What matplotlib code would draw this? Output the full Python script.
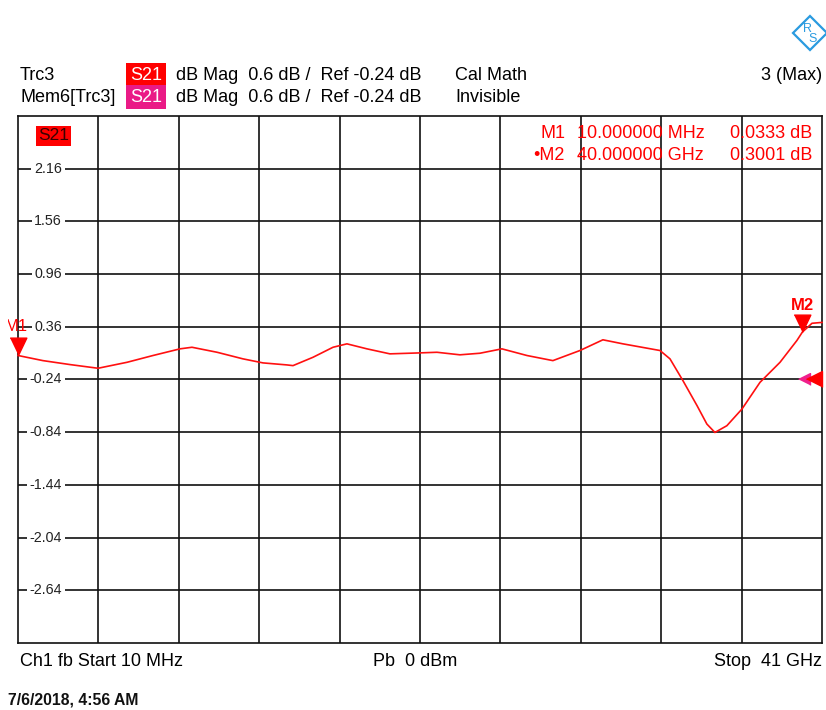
import matplotlib
matplotlib.use('Agg')
import matplotlib.pyplot as plt
import matplotlib.transforms as mtransforms
from matplotlib.patches import Polygon
from matplotlib.transforms import Bbox

# ---------------- data ----------------
freq_ghz = [0.01, 1.28, 2.66, 4.09, 5.57, 6.89, 8.27, 8.88, 10.16, 11.48,
            12.50, 13.72, 14.03, 15.05, 16.07, 16.78, 17.80, 18.97, 20.50,
            21.37, 22.54, 23.56, 24.68, 25.96, 27.28, 28.66, 29.83, 30.85,
            32.74, 33.25, 33.91, 34.63, 35.13, 35.54, 36.15, 36.92, 37.84,
            38.86, 39.72, 40.00, 40.49, 41.00]
s21_db = [0.0333, -0.025, -0.070, -0.112, -0.044, 0.033, 0.109, 0.127, 0.070,
          -0.005, -0.051, -0.074, -0.082, 0.013, 0.127, 0.166, 0.109, 0.052,
          0.063, 0.070, 0.041, 0.059, 0.109, 0.033, -0.025, 0.090, 0.212,
          0.166, 0.090, -0.005, -0.253, -0.538, -0.747, -0.843, -0.766,
          -0.576, -0.272, -0.044, 0.204, 0.3001, 0.400, 0.410]
ytick_vals = [2.16, 1.56, 0.96, 0.36, -0.24, -0.84, -1.44, -2.04, -2.64]
start_ghz, stop_ghz = 0.01, 41.0
ref_db, scale_db = -0.24, 0.6
marker_names = ['M1', 'M2']
marker_freq = [0.01, 40.0]
marker_val = [0.0333, 0.3001]
marker_freq_txt = ['10.000000 MHz', '40.000000 GHz']
marker_val_txt = ['0.0333 dB', '0.3001 dB']

# ---------------- figure ----------------
W, H = 826, 710
plt.rcParams['font.family'] = ['Liberation Sans', 'DejaVu Sans']
fig = plt.figure(figsize=(W / 100, H / 100), dpi=100)

def fx(x):
    return x / W

def fy(y):
    return 1 - y / H

L, R, T, B = 18, 822, 116, 643
ax = fig.add_axes([fx(L), fy(B), (R - L) / W, (B - T) / H])
ax.set_xlim(start_ghz, stop_ghz)
ax.set_ylim(ref_db - 5 * scale_db, ref_db + 5 * scale_db)
ax.set_xticks([])
ax.set_yticks([])
for s in ax.spines.values():
    s.set_color('#111111')
    s.set_linewidth(1.2)

# grid
div = (stop_ghz - start_ghz) / 10
for k in range(1, 10):
    ax.axvline(start_ghz + k * div, color='#111111', lw=1.2, zorder=1)
for v in ytick_vals:
    ax.axhline(v, color='#111111', lw=1.2, zorder=1)
    ax.text(44 / (R - L), v, f'{v:.2f}', transform=ax.get_yaxis_transform(),
            ha='right', va='center', fontsize=10.3, color='#222222', zorder=2,
            bbox=dict(fc='white', ec='none', pad=2.0))

# trace
ax.plot(freq_ghz, s21_db, color='#ff1010', lw=1.2, zorder=4, clip_on=False)

# marker triangles
tri_down = [(-0.48, 1.0), (0.48, 1.0), (0.0, 0.0)]
for i, (f, v) in enumerate(zip(marker_freq, marker_val)):
    ax.plot([f], [v], marker=tri_down, ms=25, color='#ff0000', mec='#ff0000',
            lw=0, zorder=6, clip_on=False)
# M1 label (left part clipped)
t1 = ax.annotate('M1', xy=(marker_freq[0], marker_val[0]), xytext=(-2, 21),
                 textcoords='offset pixels', ha='center', va='bottom',
                 fontsize=12, color='#ff0000', zorder=7, annotation_clip=False)
t1.set_clip_box(Bbox.from_extents(8, 0, W, H))
t1.set_clip_on(True)
ax.annotate('M2', xy=(marker_freq[1], marker_val[1]), xytext=(0, 19),
            textcoords='offset pixels', ha='center', va='bottom',
            fontsize=12, fontweight='bold', color='#ff0000', zorder=7,
            annotation_clip=False)

# reference level arrows on right edge
tri_left = [(-1.0, 0.0), (0.0, 0.5), (0.0, -0.5)]
ytr = ax.get_yaxis_transform()
mag_tr = ytr + mtransforms.ScaledTranslation(-12 / 100, 0, fig.dpi_scale_trans)
ax.plot([1.0], [ref_db], marker=tri_left, ms=17, color='#f0208c', lw=0,
        transform=mag_tr, clip_on=False, zorder=6)
ax.plot([1.0], [ref_db], marker=tri_left, ms=23, color='#ff0000', lw=0,
        transform=ytr, clip_on=False, zorder=7)

# S21 label inside plot
fig.text(fx(38), fy(136), 'S21', fontsize=12.5, color='#3a0000', va='center',
         ha='left', bbox=dict(fc='#ff0000', ec='none', pad=1.8), zorder=10)

# marker readout
mk_fs = 13
for i in range(2):
    y = [133, 156][i]
    name = marker_names[i] if i == 0 else '\u2022' + marker_names[i]
    fig.text(fx(565), fy(y), name, ha='right', va='center', fontsize=mk_fs,
             color='#ff0000')
    fig.text(fx(577), fy(y), marker_freq_txt[i], ha='left', va='center',
             fontsize=mk_fs, color='#ff0000')
    fig.text(fx(812), fy(y), marker_val_txt[i], ha='right', va='center',
             fontsize=mk_fs, color='#ff0000')

# header
hdr_fs = 13
fig.text(fx(20), fy(75), 'Trc3', fontsize=hdr_fs, va='center')
fig.text(fx(20), fy(97), 'Mem6[Trc3]', fontsize=hdr_fs, va='center')
fig.text(fx(130), fy(75), 'S21', fontsize=hdr_fs, va='center', color='white',
         bbox=dict(fc='#ff0000', ec='none', pad=2.6))
fig.text(fx(130), fy(97), 'S21', fontsize=hdr_fs, va='center', color='white',
         bbox=dict(fc='#ea1a86', ec='none', pad=2.6))
for y in (75, 97):
    fig.text(fx(176), fy(y), 'dB Mag  0.6 dB /  Ref -0.24 dB', fontsize=hdr_fs,
             va='center')
fig.text(fx(455), fy(75), 'Cal Math', fontsize=hdr_fs, va='center')
fig.text(fx(455), fy(97), 'Invisible', fontsize=hdr_fs, va='center')
fig.text(fx(822), fy(75), '3 (Max)', fontsize=hdr_fs, va='center', ha='right')

# footer
fig.text(fx(20), fy(662), 'Ch1 fb Start 10 MHz', fontsize=hdr_fs, va='center')
fig.text(fx(373), fy(662), 'Pb  0 dBm', fontsize=hdr_fs, va='center')
fig.text(fx(822), fy(662), 'Stop  41 GHz', fontsize=hdr_fs, va='center',
         ha='right')
fig.text(fx(8), fy(700), '7/6/2018, 4:56 AM', fontsize=11.3, fontweight='bold',
         va='center', color='#111111')

# logo (R&S diamond)
cx, cy, r = 810, 33, 17
logo = Polygon([(fx(cx - r), fy(cy)), (fx(cx), fy(cy - r)),
                (fx(cx + r), fy(cy)), (fx(cx), fy(cy + r))], closed=True,
               transform=fig.transFigure, fc='white', ec='#2a9be0', lw=1.6)
fig.patches.append(logo)
fig.text(fx(cx - 3), fy(cy - 4), 'R', fontsize=9, color='#2a9be0',
         ha='center', va='center')
fig.text(fx(cx + 3), fy(cy + 6), 'S', fontsize=9, color='#2a9be0',
         ha='center', va='center')

fig.savefig('out.png', dpi=100)
